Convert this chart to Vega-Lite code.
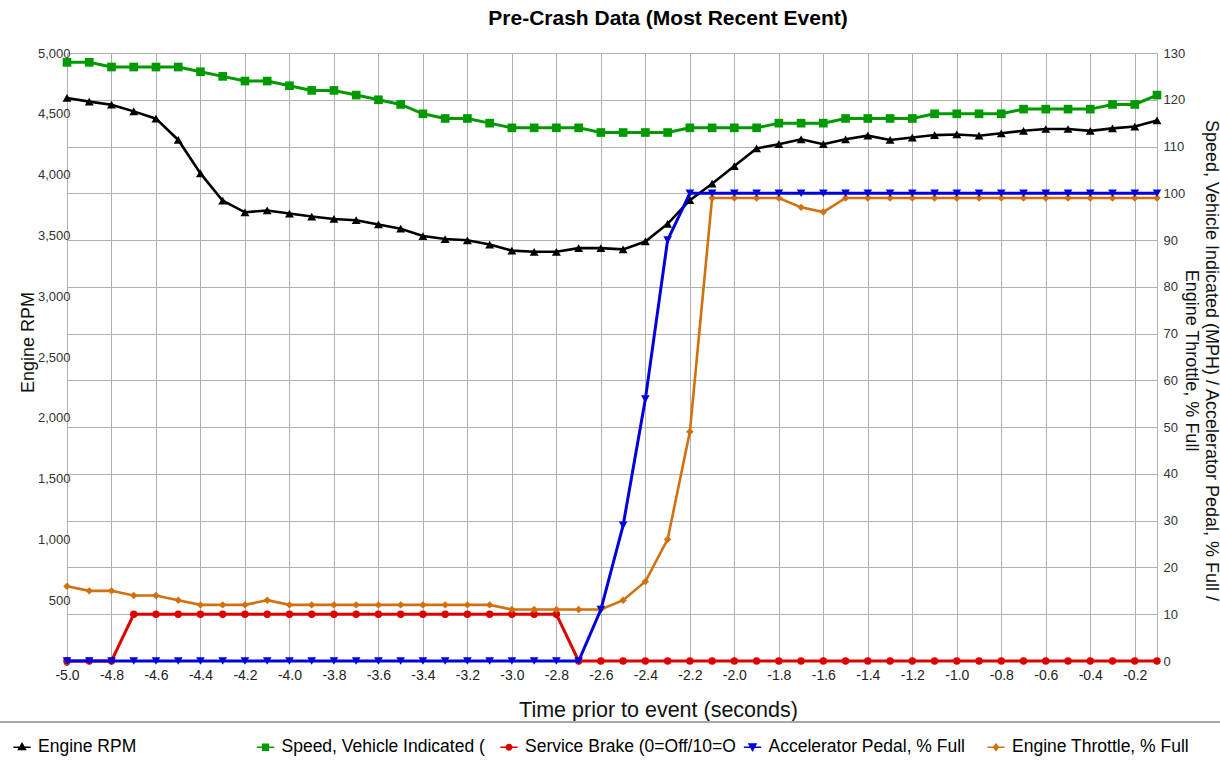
{
  "$schema": "https://vega.github.io/schema/vega-lite/v6.json",
  "width": 1090,
  "height": 608,
  "autosize": {"type": "none"},
  "padding": {"left": 67, "top": 53, "right": 63, "bottom": 108},
  "background": "white",
  "config": {
    "font": "Liberation Sans",
    "view": {"stroke": null}
  },
  "title": {
    "text": "Pre-Crash Data (Most Recent Event)",
    "font": "Liberation Sans",
    "fontSize": 21,
    "fontWeight": "bold",
    "color": "#000000",
    "anchor": "middle",
    "dx": 56,
    "offset": 18
  },
  "data": {
    "values": [
      {"t": -5.0, "rpm": 4630, "speed": 128, "brake": 0, "accel": 0, "throttle": 16},
      {"t": -4.9, "rpm": 4600, "speed": 128, "brake": 0, "accel": 0, "throttle": 15},
      {"t": -4.8, "rpm": 4575, "speed": 127, "brake": 0, "accel": 0, "throttle": 15},
      {"t": -4.7, "rpm": 4520, "speed": 127, "brake": 10, "accel": 0, "throttle": 14},
      {"t": -4.6, "rpm": 4460, "speed": 127, "brake": 10, "accel": 0, "throttle": 14},
      {"t": -4.5, "rpm": 4285, "speed": 127, "brake": 10, "accel": 0, "throttle": 13},
      {"t": -4.4, "rpm": 4010, "speed": 126, "brake": 10, "accel": 0, "throttle": 12},
      {"t": -4.3, "rpm": 3785, "speed": 125, "brake": 10, "accel": 0, "throttle": 12},
      {"t": -4.2, "rpm": 3690, "speed": 124, "brake": 10, "accel": 0, "throttle": 12},
      {"t": -4.1, "rpm": 3705, "speed": 124, "brake": 10, "accel": 0, "throttle": 13},
      {"t": -4.0, "rpm": 3680, "speed": 123, "brake": 10, "accel": 0, "throttle": 12},
      {"t": -3.9, "rpm": 3655, "speed": 122, "brake": 10, "accel": 0, "throttle": 12},
      {"t": -3.8, "rpm": 3635, "speed": 122, "brake": 10, "accel": 0, "throttle": 12},
      {"t": -3.7, "rpm": 3625, "speed": 121, "brake": 10, "accel": 0, "throttle": 12},
      {"t": -3.6, "rpm": 3590, "speed": 120, "brake": 10, "accel": 0, "throttle": 12},
      {"t": -3.5, "rpm": 3555, "speed": 119, "brake": 10, "accel": 0, "throttle": 12},
      {"t": -3.4, "rpm": 3495, "speed": 117, "brake": 10, "accel": 0, "throttle": 12},
      {"t": -3.3, "rpm": 3470, "speed": 116, "brake": 10, "accel": 0, "throttle": 12},
      {"t": -3.2, "rpm": 3460, "speed": 116, "brake": 10, "accel": 0, "throttle": 12},
      {"t": -3.1, "rpm": 3425, "speed": 115, "brake": 10, "accel": 0, "throttle": 12},
      {"t": -3.0, "rpm": 3375, "speed": 114, "brake": 10, "accel": 0, "throttle": 11},
      {"t": -2.9, "rpm": 3365, "speed": 114, "brake": 10, "accel": 0, "throttle": 11},
      {"t": -2.8, "rpm": 3365, "speed": 114, "brake": 10, "accel": 0, "throttle": 11},
      {"t": -2.7, "rpm": 3395, "speed": 114, "brake": 0, "accel": 0, "throttle": 11},
      {"t": -2.6, "rpm": 3395, "speed": 113, "brake": 0, "accel": 11, "throttle": 11},
      {"t": -2.5, "rpm": 3385, "speed": 113, "brake": 0, "accel": 29, "throttle": 13},
      {"t": -2.4, "rpm": 3450, "speed": 113, "brake": 0, "accel": 56, "throttle": 17},
      {"t": -2.3, "rpm": 3595, "speed": 113, "brake": 0, "accel": 90, "throttle": 26},
      {"t": -2.2, "rpm": 3790, "speed": 114, "brake": 0, "accel": 100, "throttle": 49},
      {"t": -2.1, "rpm": 3925, "speed": 114, "brake": 0, "accel": 100, "throttle": 99},
      {"t": -2.0, "rpm": 4070, "speed": 114, "brake": 0, "accel": 100, "throttle": 99},
      {"t": -1.9, "rpm": 4215, "speed": 114, "brake": 0, "accel": 100, "throttle": 99},
      {"t": -1.8, "rpm": 4250, "speed": 115, "brake": 0, "accel": 100, "throttle": 99},
      {"t": -1.7, "rpm": 4290, "speed": 115, "brake": 0, "accel": 100, "throttle": 97},
      {"t": -1.6, "rpm": 4250, "speed": 115, "brake": 0, "accel": 100, "throttle": 96},
      {"t": -1.5, "rpm": 4290, "speed": 116, "brake": 0, "accel": 100, "throttle": 99},
      {"t": -1.4, "rpm": 4320, "speed": 116, "brake": 0, "accel": 100, "throttle": 99},
      {"t": -1.3, "rpm": 4285, "speed": 116, "brake": 0, "accel": 100, "throttle": 99},
      {"t": -1.2, "rpm": 4305, "speed": 116, "brake": 0, "accel": 100, "throttle": 99},
      {"t": -1.1, "rpm": 4325, "speed": 117, "brake": 0, "accel": 100, "throttle": 99},
      {"t": -1.0, "rpm": 4330, "speed": 117, "brake": 0, "accel": 100, "throttle": 99},
      {"t": -0.9, "rpm": 4320, "speed": 117, "brake": 0, "accel": 100, "throttle": 99},
      {"t": -0.8, "rpm": 4340, "speed": 117, "brake": 0, "accel": 100, "throttle": 99},
      {"t": -0.7, "rpm": 4360, "speed": 118, "brake": 0, "accel": 100, "throttle": 99},
      {"t": -0.6, "rpm": 4375, "speed": 118, "brake": 0, "accel": 100, "throttle": 99},
      {"t": -0.5, "rpm": 4375, "speed": 118, "brake": 0, "accel": 100, "throttle": 99},
      {"t": -0.4, "rpm": 4360, "speed": 118, "brake": 0, "accel": 100, "throttle": 99},
      {"t": -0.3, "rpm": 4380, "speed": 119, "brake": 0, "accel": 100, "throttle": 99},
      {"t": -0.2, "rpm": 4395, "speed": 119, "brake": 0, "accel": 100, "throttle": 99},
      {"t": -0.1, "rpm": 4445, "speed": 121, "brake": 0, "accel": 100, "throttle": 99}
    ]
  },
  "encoding": {
    "x": {
      "field": "t",
      "type": "quantitative",
      "scale": {"domain": [-5.0, -0.1], "nice": false, "zero": false},
      "axis": {
        "values": [-5.0, -4.8, -4.6, -4.4, -4.2, -4.0, -3.8, -3.6, -3.4, -3.2, -3.0, -2.8, -2.6, -2.4, -2.2, -2.0, -1.8, -1.6, -1.4, -1.2, -1.0, -0.8, -0.6, -0.4, -0.2],
        "format": ".1f",
        "labelExpr": "replace(datum.label, '\u2212', '-')",
        "grid": true,
        "gridColor": "#b0b0b0",
        "gridWidth": 1,
        "domain": false,
        "ticks": false,
        "labelFont": "Liberation Sans",
        "labelFontSize": 14,
        "labelColor": "#222222",
        "labelPadding": 7,
        "labelFlush": false,
        "labelOverlap": false,
        "title": "Time prior to event (seconds)",
        "titleFont": "Liberation Sans",
        "titleFontSize": 21.5,
        "titleFontWeight": "normal",
        "titleColor": "#111111",
        "titleX": 591,
        "titleY": 49,
        "titleAlign": "center",
        "titleBaseline": "middle"
      }
    }
  },
  "layer": [
    {
      "mark": {"type": "line", "strokeWidth": 2.6, "point": {"shape": "triangle-up", "size": 80, "filled": true}},
      "encoding": {
        "y": {
          "field": "rpm",
          "type": "quantitative",
          "scale": {"domain": [0, 5000], "nice": false},
          "axis": {
            "orient": "left",
            "values": [0, 500, 1000, 1500, 2000, 2500, 3000, 3500, 4000, 4500, 5000],
            "format": ",d",
            "grid": false,
            "domain": false,
            "ticks": false,
            "labelFont": "Liberation Sans",
            "labelFontSize": 13,
            "labelColor": "#333333",
            "labelAlign": "right",
            "labelPadding": -3,
            "title": "Engine RPM",
            "titleFont": "Liberation Sans",
            "titleFontSize": 18,
            "titleFontWeight": "normal",
            "titleColor": "#111111",
            "titleAngle": -90,
            "titleX": -39,
            "titleY": 289,
            "titleAlign": "center",
            "titleBaseline": "middle"
          }
        },
        "color": {
          "datum": "Engine RPM",
          "type": "nominal",
          "scale": {
            "domain": ["Engine RPM", "Speed, Vehicle Indicated (MPH)", "Service Brake (0=Off/10=On)", "Accelerator Pedal, % Full", "Engine Throttle, % Full"],
            "range": ["#000000", "#009a00", "#dd0000", "#0000dd", "#d2700f"]
          },
          "legend": {
            "orient": "none",
            "legendX": -70,
            "legendY": 669,
            "direction": "horizontal",
            "columns": 5,
            "gridAlign": "all",
            "columnPadding": 7.5,
            "title": " ",
            "titleOrient": "right",
            "titlePadding": 30,
            "symbolSize": 300,
            "labelFont": "Liberation Sans",
            "labelFontSize": 17.5,
            "labelColor": "#000000",
            "labelLimit": 212,
            "labelOffset": 7,
            "padding": 16,
            "strokeColor": "#a8a8a8",
            "encode": {
              "legend": {
                "update": {"strokeWidth": {"value": 2}}
              },
              "labels": {
                "update": {"ellipsis": {"value": "\u200b"}}
              },
              "symbols": {
                "update": {
                  "shape": {"signal": "datum.value === 'Engine RPM' ? 'M-1,-0.1H1V0.1H-1Z M0,-0.6L0.55,0.35H-0.55Z' : datum.value === 'Speed, Vehicle Indicated (MPH)' ? 'M-1,-0.1H1V0.1H-1Z M-0.42,-0.42H0.42V0.42H-0.42Z' : datum.value === 'Service Brake (0=Off/10=On)' ? 'M-1,-0.1H1V0.1H-1Z M-0.4,0A0.4,0.4 0 1,1 0.4,0A0.4,0.4 0 1,1 -0.4,0Z' : datum.value === 'Accelerator Pedal, % Full' ? 'M-1,-0.1H1V0.1H-1Z M-0.55,-0.45H0.55L0,0.55Z' : 'M-1,-0.1H1V0.1H-1Z M0,-0.5L0.4,0L0,0.5L-0.4,0Z'"},
                  "fill": {"signal": "scale('color', datum.value)"},
                  "fillOpacity": {"value": 1},
                  "strokeWidth": {"value": 0}
                }
              }
            }
          }
        }
      }
    },
    {
      "layer": [
        {
          "mark": {"type": "line", "strokeWidth": 3, "point": {"shape": "circle", "size": 55, "filled": true}},
          "encoding": {
            "y": {
              "field": "brake",
              "type": "quantitative",
              "scale": {"domain": [0, 130], "nice": false},
              "title": ["Speed, Vehicle Indicated (MPH) / Accelerator Pedal, % Full /", "Engine Throttle, % Full"],
              "axis": {
                "orient": "right",
                "values": [0, 10, 20, 30, 40, 50, 60, 70, 80, 90, 100, 110, 120, 130],
                "grid": true,
                "gridColor": "#b0b0b0",
                "gridWidth": 1,
                "domain": true,
                "domainColor": "#b0b0b0",
                "domainWidth": 1,
                "ticks": false,
                "labelFont": "Liberation Sans",
                "labelFontSize": 13,
                "labelColor": "#333333",
                "labelPadding": 6,
                "titleFont": "Liberation Sans",
                "titleFontSize": 18,
                "titleFontWeight": "normal",
                "titleColor": "#111111",
                "titleAngle": 90,
                "titleX": 62,
                "titleY": 307,
                "titleAlign": "center",
                "titleBaseline": "top"
              }
            },
            "color": {"datum": "Service Brake (0=Off/10=On)", "type": "nominal"}
          }
        },
        {
          "mark": {"type": "line", "strokeWidth": 2.6, "point": {"shape": "diamond", "size": 55, "filled": true}},
          "encoding": {
            "y": {"field": "throttle", "type": "quantitative"},
            "color": {"datum": "Engine Throttle, % Full", "type": "nominal"}
          }
        },
        {
          "mark": {"type": "line", "strokeWidth": 3, "point": {"shape": "triangle-down", "size": 75, "filled": true}},
          "encoding": {
            "y": {"field": "accel", "type": "quantitative"},
            "color": {"datum": "Accelerator Pedal, % Full", "type": "nominal"}
          }
        },
        {
          "mark": {"type": "line", "strokeWidth": 3, "point": {"shape": "square", "size": 75, "filled": true}},
          "encoding": {
            "y": {"field": "speed", "type": "quantitative"},
            "color": {"datum": "Speed, Vehicle Indicated (MPH)", "type": "nominal"}
          }
        }
      ]
    }
  ],
  "resolve": {"scale": {"y": "independent"}}
}
